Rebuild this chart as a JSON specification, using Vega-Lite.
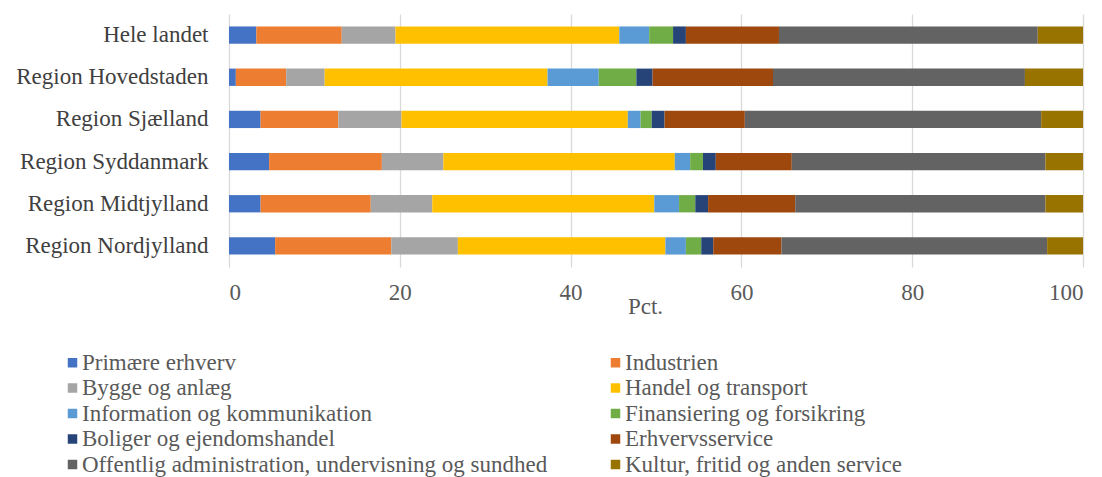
{
  "$schema": "https://vega.github.io/schema/vega-lite/v6.json",
  "autosize": {"type": "none"},
  "width": 854,
  "height": 253,
  "padding": {"left": 229, "top": 14, "right": 19, "bottom": 210},
  "background": "white",
  "config": {
    "view": {"stroke": null},
    "font": "Liberation Serif"
  },
  "data": {"values": [
    {"r": "Hele landet", "c": "Primære erhverv", "k": 1, "v": 3.2},
    {"r": "Hele landet", "c": "Industrien", "k": 2, "v": 10.0},
    {"r": "Hele landet", "c": "Bygge og anlæg", "k": 3, "v": 6.3},
    {"r": "Hele landet", "c": "Handel og transport", "k": 4, "v": 26.2},
    {"r": "Hele landet", "c": "Information og kommunikation", "k": 5, "v": 3.5},
    {"r": "Hele landet", "c": "Finansiering og forsikring", "k": 6, "v": 2.8},
    {"r": "Hele landet", "c": "Boliger og ejendomshandel", "k": 7, "v": 1.5},
    {"r": "Hele landet", "c": "Erhvervsservice", "k": 8, "v": 10.9},
    {"r": "Hele landet", "c": "Offentlig administration, undervisning og sundhed", "k": 9, "v": 30.3},
    {"r": "Hele landet", "c": "Kultur, fritid og anden service", "k": 10, "v": 5.3},
    {"r": "Region Hovedstaden", "c": "Primære erhverv", "k": 1, "v": 0.8},
    {"r": "Region Hovedstaden", "c": "Industrien", "k": 2, "v": 5.9},
    {"r": "Region Hovedstaden", "c": "Bygge og anlæg", "k": 3, "v": 4.5},
    {"r": "Region Hovedstaden", "c": "Handel og transport", "k": 4, "v": 26.1},
    {"r": "Region Hovedstaden", "c": "Information og kommunikation", "k": 5, "v": 6.0},
    {"r": "Region Hovedstaden", "c": "Finansiering og forsikring", "k": 6, "v": 4.4},
    {"r": "Region Hovedstaden", "c": "Boliger og ejendomshandel", "k": 7, "v": 1.9},
    {"r": "Region Hovedstaden", "c": "Erhvervsservice", "k": 8, "v": 14.1},
    {"r": "Region Hovedstaden", "c": "Offentlig administration, undervisning og sundhed", "k": 9, "v": 29.5},
    {"r": "Region Hovedstaden", "c": "Kultur, fritid og anden service", "k": 10, "v": 6.8},
    {"r": "Region Sjælland", "c": "Primære erhverv", "k": 1, "v": 3.7},
    {"r": "Region Sjælland", "c": "Industrien", "k": 2, "v": 9.1},
    {"r": "Region Sjælland", "c": "Bygge og anlæg", "k": 3, "v": 7.4},
    {"r": "Region Sjælland", "c": "Handel og transport", "k": 4, "v": 26.5},
    {"r": "Region Sjælland", "c": "Information og kommunikation", "k": 5, "v": 1.5},
    {"r": "Region Sjælland", "c": "Finansiering og forsikring", "k": 6, "v": 1.3},
    {"r": "Region Sjælland", "c": "Boliger og ejendomshandel", "k": 7, "v": 1.5},
    {"r": "Region Sjælland", "c": "Erhvervsservice", "k": 8, "v": 9.4},
    {"r": "Region Sjælland", "c": "Offentlig administration, undervisning og sundhed", "k": 9, "v": 34.7},
    {"r": "Region Sjælland", "c": "Kultur, fritid og anden service", "k": 10, "v": 4.9},
    {"r": "Region Syddanmark", "c": "Primære erhverv", "k": 1, "v": 4.7},
    {"r": "Region Syddanmark", "c": "Industrien", "k": 2, "v": 13.2},
    {"r": "Region Syddanmark", "c": "Bygge og anlæg", "k": 3, "v": 7.2},
    {"r": "Region Syddanmark", "c": "Handel og transport", "k": 4, "v": 27.1},
    {"r": "Region Syddanmark", "c": "Information og kommunikation", "k": 5, "v": 1.8},
    {"r": "Region Syddanmark", "c": "Finansiering og forsikring", "k": 6, "v": 1.5},
    {"r": "Region Syddanmark", "c": "Boliger og ejendomshandel", "k": 7, "v": 1.5},
    {"r": "Region Syddanmark", "c": "Erhvervsservice", "k": 8, "v": 8.9},
    {"r": "Region Syddanmark", "c": "Offentlig administration, undervisning og sundhed", "k": 9, "v": 29.7},
    {"r": "Region Syddanmark", "c": "Kultur, fritid og anden service", "k": 10, "v": 4.4},
    {"r": "Region Midtjylland", "c": "Primære erhverv", "k": 1, "v": 3.7},
    {"r": "Region Midtjylland", "c": "Industrien", "k": 2, "v": 12.9},
    {"r": "Region Midtjylland", "c": "Bygge og anlæg", "k": 3, "v": 7.2},
    {"r": "Region Midtjylland", "c": "Handel og transport", "k": 4, "v": 26.0},
    {"r": "Region Midtjylland", "c": "Information og kommunikation", "k": 5, "v": 2.9},
    {"r": "Region Midtjylland", "c": "Finansiering og forsikring", "k": 6, "v": 1.9},
    {"r": "Region Midtjylland", "c": "Boliger og ejendomshandel", "k": 7, "v": 1.5},
    {"r": "Region Midtjylland", "c": "Erhvervsservice", "k": 8, "v": 10.2},
    {"r": "Region Midtjylland", "c": "Offentlig administration, undervisning og sundhed", "k": 9, "v": 29.3},
    {"r": "Region Midtjylland", "c": "Kultur, fritid og anden service", "k": 10, "v": 4.4},
    {"r": "Region Nordjylland", "c": "Primære erhverv", "k": 1, "v": 5.4},
    {"r": "Region Nordjylland", "c": "Industrien", "k": 2, "v": 13.6},
    {"r": "Region Nordjylland", "c": "Bygge og anlæg", "k": 3, "v": 7.8},
    {"r": "Region Nordjylland", "c": "Handel og transport", "k": 4, "v": 24.3},
    {"r": "Region Nordjylland", "c": "Information og kommunikation", "k": 5, "v": 2.4},
    {"r": "Region Nordjylland", "c": "Finansiering og forsikring", "k": 6, "v": 1.8},
    {"r": "Region Nordjylland", "c": "Boliger og ejendomshandel", "k": 7, "v": 1.4},
    {"r": "Region Nordjylland", "c": "Erhvervsservice", "k": 8, "v": 8.0},
    {"r": "Region Nordjylland", "c": "Offentlig administration, undervisning og sundhed", "k": 9, "v": 31.1},
    {"r": "Region Nordjylland", "c": "Kultur, fritid og anden service", "k": 10, "v": 4.2}
  ]},
  "mark": {"type": "bar"},
  "encoding": {
    "y": {
      "field": "r", "type": "nominal",
      "sort": ["Hele landet", "Region Hovedstaden", "Region Sjælland", "Region Syddanmark", "Region Midtjylland", "Region Nordjylland"],
      "scale": {"paddingInner": 0.59, "paddingOuter": 0.295},
      "axis": {
        "title": null, "domain": false, "ticks": false, "labelPadding": 21, "labelLimit": 300,
        "labelFontSize": 23, "labelColor": "#404040", "labelFont": "Liberation Serif"
      }
    },
    "x": {
      "field": "v", "type": "quantitative", "stack": "zero",
      "scale": {"domain": [0, 100], "nice": false},
      "axis": {
        "title": "Pct.", "values": [0, 20, 40, 60, 80, 100], "domain": false, "ticks": false,
        "grid": true, "gridColor": "#D9D9D9", "gridWidth": 1.3,
        "labelPadding": 14, "labelFontSize": 23, "labelColor": "#595959", "labelFont": "Liberation Serif",
        "titleFontSize": 23, "titleFontWeight": "normal", "titleColor": "#595959", "titleFont": "Liberation Serif",
        "titleX": 416, "titleY": 46, "titleAlign": "center", "titleBaseline": "alphabetic"
      }
    },
    "color": {
      "field": "c", "type": "nominal",
      "scale": {
        "domain": ["Primære erhverv", "Bygge og anlæg", "Information og kommunikation", "Boliger og ejendomshandel", "Offentlig administration, undervisning og sundhed", "Industrien", "Handel og transport", "Finansiering og forsikring", "Erhvervsservice", "Kultur, fritid og anden service"],
        "range": ["#4472C4", "#A5A5A5", "#5B9BD5", "#264478", "#636363", "#ED7D31", "#FFC000", "#70AD47", "#9E480E", "#997300"]
      },
      "legend": {
        "title": null, "orient": "none", "legendX": -168, "legendY": 337, "columns": 2,
        "columnPadding": 56, "rowPadding": 1.5, "symbolType": "square", "symbolSize": 90,
        "symbolStrokeWidth": 0, "labelOffset": -2, "labelFontSize": 23, "labelColor": "#595959",
        "labelFont": "Liberation Serif", "labelLimit": 700, "padding": 0
      }
    },
    "order": {"field": "k", "type": "quantitative"}
  }
}
